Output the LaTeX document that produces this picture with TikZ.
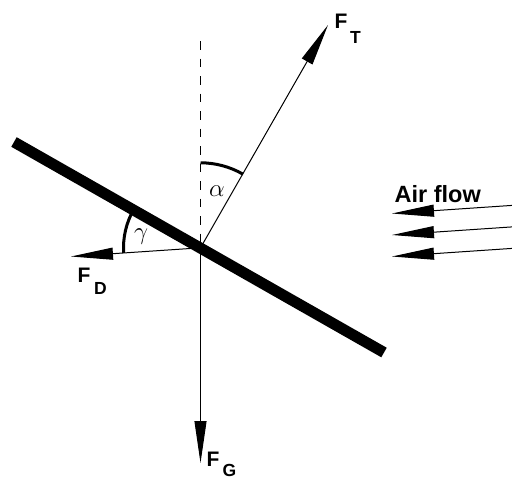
\documentclass[tikz,border=0pt]{standalone}
\usepackage{fontspec}
\setsansfont{Liberation Sans}
\usetikzlibrary{arrows.meta}
\newcommand{\fsub}[3]{F\hspace{#2}\raisebox{#3}{\fontsize{17.5}{17.5}\selectfont #1}}
\begin{document}
\begin{tikzpicture}[x=1pt,y=-1pt,
  force/.style={line width=1pt, -{Triangle[length=42pt,width=12pt]}},
  lbl/.style={inner sep=0pt, anchor=base west, font=\sffamily\bfseries\fontsize{21}{21}\selectfont},
  anglearc/.style={line width=3pt},
  plate/.style={line width=11pt, line cap=butt},
  greek/.style={inner sep=0pt, font=\fontsize{23}{23}\selectfont}]
\useasboundingbox (0,0) rectangle (512,480);
% points
\coordinate (C) at (200.5,247.8);
\coordinate (top) at (200.5,41);
\coordinate (T) at (328,25);
\coordinate (D) at (71,256.5);
\coordinate (G) at (200.5,463);
\coordinate (P1) at (14,142);
\coordinate (P2) at (384,352.5);
\coordinate (A1s) at (512,205.4);
\coordinate (A1e) at (392,213.5);
\coordinate (A2s) at (512,226.9);
\coordinate (A2e) at (392,235);
\coordinate (A3s) at (512,248.4);
\coordinate (A3e) at (392,256.5);
% vertical reference
\draw[line width=1.2pt, dash pattern=on 8.5pt off 9pt] (top) -- (C);
% forces
\draw[force] (C) -- (G);
\draw[force] (C) -- (T);
\draw[force] (C) -- (D);
% angle arcs
\draw[anglearc] (C) ++(270:85) arc[start angle=270, end angle=300, radius=85];
\draw[anglearc] (C) ++(176.2:77) arc[start angle=176.2, end angle=209.6, radius=77];
% plate
\draw[plate] (P1) -- (P2);
% air flow
\draw[force] (A1s) -- (A1e);
\draw[force] (A2s) -- (A2e);
\draw[force] (A3s) -- (A3e);
% labels
\node[lbl] (lT) at (334.5,28) {\fsub{T}{2.5pt}{-15pt}};
\node[lbl] (lD) at (77.5,282) {\fsub{D}{3.5pt}{-12pt}};
\node[lbl] (lG) at (206.5,466) {\fsub{G}{3pt}{-10pt}};
\node[lbl, font=\sffamily\bfseries\fontsize{23.5}{23.5}\selectfont] (air) at (394.5,202) {Air flow};
\node[greek] (alpha) at (217,191) {$\alpha$};
\node[greek] (gamma) at (141,237) {$\gamma$};
\end{tikzpicture}
\end{document}
